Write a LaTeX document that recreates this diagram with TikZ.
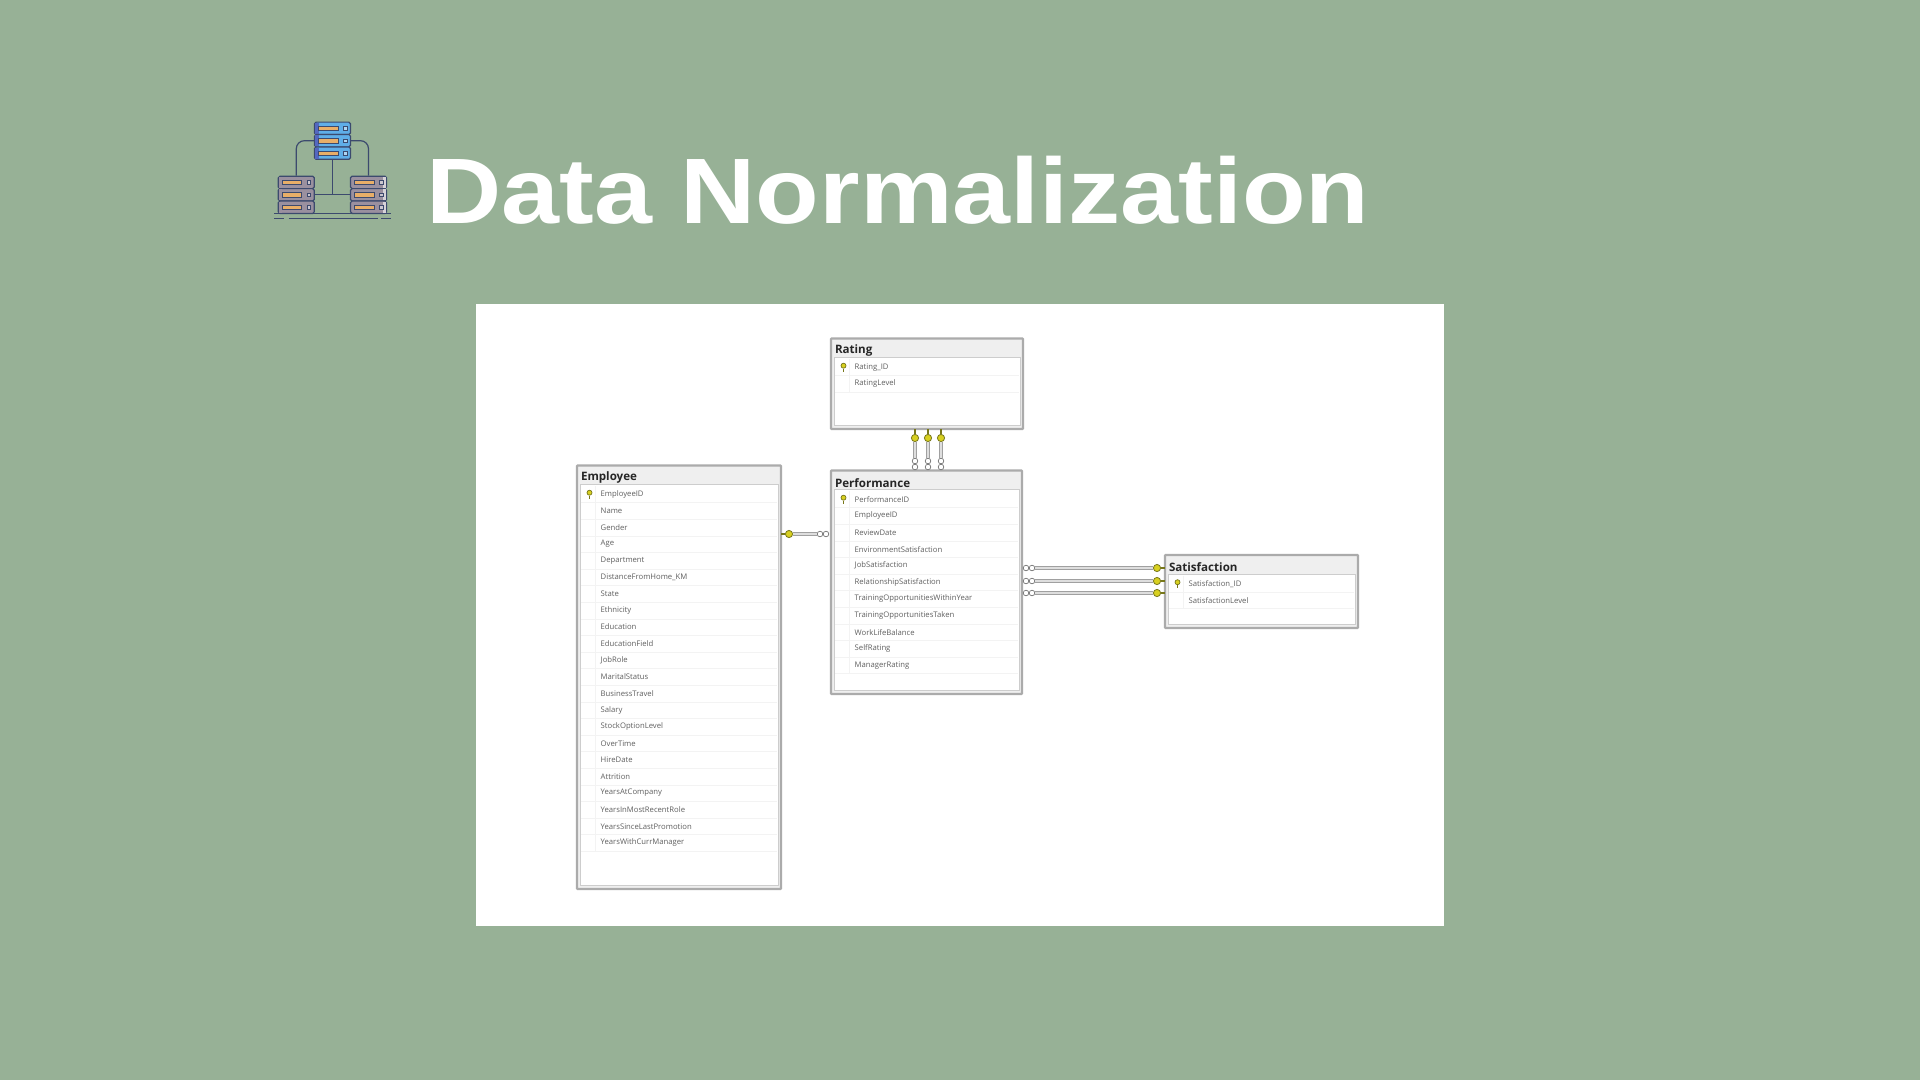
\documentclass[tikz,border=0pt]{standalone}
\usepackage{fontspec}
\setmainfont{Open Sans}
\newfontfamily\titlefont{Liberation Sans}[FakeStretch=1.12]
\definecolor{pagegreen}{HTML}{97B196}
\definecolor{tableline}{HTML}{ABABAB}
\definecolor{tablehead}{HTML}{EFEFEF}
\definecolor{rowline}{HTML}{F3F3F3}
\definecolor{fieldtext}{HTML}{606060}
\definecolor{keyyellow}{HTML}{D8D020}
\definecolor{keyedge}{HTML}{77771A}
\definecolor{relgray}{HTML}{A0A0A0}
\definecolor{rellight}{HTML}{DEDEDE}
\definecolor{iconline}{HTML}{3C4A6E}
\definecolor{rackblue}{HTML}{5FAEE8}
\definecolor{rackstrip}{HTML}{5468C0}
\definecolor{rackgray}{HTML}{9A909F}
\definecolor{rackbar}{HTML}{E8AE68}
\tikzset{
  tablebox/.style={draw=tableline,line width=2.2pt,fill=tablehead,anchor=north west,inner sep=0pt,outer sep=0pt,rounded corners=0.6pt},
  tablebody/.style={draw=tableline!60,line width=0.9pt,fill=white,anchor=north west,inner sep=0pt,outer sep=0pt},
  tabletitle/.style={anchor=west,inner sep=0pt,font=\bfseries\fontsize{11.6}{13}\selectfont,text=black!85},
  fieldname/.style={anchor=west,inner sep=0pt,font=\fontsize{7.7}{10}\selectfont,text=fieldtext},
  keybulb/.style={circle,draw=keyedge,fill=keyyellow,line width=0.7pt,minimum size=5pt,inner sep=0pt},
  relline/.style={draw=relgray,line width=1.1pt,double=rellight,double distance=1.2pt,line cap=butt},
  relstub/.style={draw=keyedge,line width=1.8pt},
  relkey/.style={circle,draw=keyedge,fill=keyyellow,line width=0.8pt,minimum size=7.2pt,inner sep=0pt},
  relring/.style={circle,draw=black!55,fill=white,line width=0.7pt,minimum size=5.6pt,inner sep=0pt},
  rackunit/.style={draw=iconline,line width=1.2pt,rounded corners=1.6pt,minimum width=36pt,minimum height=12.4pt,inner sep=0pt},
  rackpipe/.style={draw=iconline,line width=1.2pt},
}
% x, y of a rack unit: box, side strip, orange bar, small square
\newcommand{\rackitem}[6]{%
  \node[rackunit,fill=#4] (#1) at (#2,#3) {};
  \fill[#5] (#2+#6-1.6,#3-5.6) rectangle (#2+#6+1.6,#3+5.6);
  \draw[iconline,fill=rackbar,line width=0.8pt] (#2-14,#3-2.2) rectangle (#2+5.4,#3+2.2);
  \draw[iconline,fill=#4!50!white,line width=0.8pt] (#2+10.8,#3-1.8) rectangle (#2+14.4,#3+1.8);
}
% name, x, y, w, h, title, rows
\newcommand{\dbtable}[7]{%
  \node[tablebox,minimum width=#4pt,minimum height=#5pt] (#1) at (#2,#3) {};
  \node[tablebody,minimum width=#4pt-6pt,minimum height=#5pt-23pt] (#1Body) at (#2+3,#3+19) {};
  \node[tabletitle] (#1Title) at (#2+3.8,#3+12.3) {#6};
  \foreach \fieldName [count=\i from 0] in {#7} {
    \node[fieldname] (#1Row\i) at (#2+23.5,#3+28.8+16.6*\i) {\fieldName};
    \draw[rowline,line width=0.7pt] (#2+4,#3+37.2+16.6*\i) -- (#2+#4-4,#3+37.2+16.6*\i);
    \draw[rowline,line width=0.7pt] (#2+18,#3+20.6+16.6*\i) -- ++(0,16.6);
  }
  \node[keybulb] (#1Key) at (#2+12.5,#3+27.2) {};
  \draw[keyedge,line width=1.3pt] (#1Key.south) -- ++(0,3);
}

\begin{document}
\begin{tikzpicture}[x=1pt,y=-1pt]
  \fill[pagegreen] (0,0) rectangle (1920,1080);
  \useasboundingbox (0,0) rectangle (1920,1080);
  \fill[white] (476,303.5) rectangle (1444,926);

  % icon
  \rackitem{topA}{332.5}{128.3}{rackblue}{rackstrip}{-15.6}
  \rackitem{topB}{332.5}{140.7}{rackblue}{rackstrip}{-15.6}
  \rackitem{topC}{332.5}{153.1}{rackblue}{rackstrip}{-15.6}
  \rackitem{leftA}{296.3}{182.4}{rackgray}{rackgray}{-15.6}
  \rackitem{leftB}{296.3}{194.8}{rackgray}{rackgray}{-15.6}
  \rackitem{leftC}{296.3}{207.2}{rackgray}{rackgray}{-15.6}
  \rackitem{rightA}{368.5}{182.4}{rackgray}{rackgray!40!white}{15.6}
  \rackitem{rightB}{368.5}{194.8}{rackgray}{rackgray!40!white}{15.6}
  \rackitem{rightC}{368.5}{207.2}{rackgray}{rackgray!40!white}{15.6}
  \draw[rackpipe,rounded corners=8pt] (topB.west) -| (leftA.north);
  \draw[rackpipe,rounded corners=8pt] (topB.east) -| (rightA.north);
  \draw[rackpipe] (topC.south) -- (topC.south |- leftB.east);
  \draw[rackpipe] (leftB.east) -- (rightB.west);
  \draw[rackpipe] (274,213.4) -- (391,213.4);
  \draw[rackpipe] (274,218.7) -- (283.5,218.7);
  \draw[rackpipe] (288.5,218.7) -- (377.5,218.7);
  \draw[rackpipe] (381,218.7) -- (391,218.7);

  \node[anchor=base west,inner sep=0pt,text=white,font=\titlefont\bfseries\fontsize{93}{100}\selectfont] (pageTitle) at (426,223) {Data Normalization};

  % tables
  \dbtable{rating}{831}{338.5}{192}{90.5}{Rating}{Rating\_ID,RatingLevel}
  \dbtable{performance}{831}{470.5}{191}{223.5}{Performance}{PerformanceID,EmployeeID,ReviewDate,EnvironmentSatisfaction,JobSatisfaction,RelationshipSatisfaction,TrainingOpportunitiesWithinYear,TrainingOpportunitiesTaken,WorkLifeBalance,SelfRating,ManagerRating}
  \dbtable{employee}{577}{465.5}{204}{423.5}{Employee}{EmployeeID,Name,Gender,Age,Department,DistanceFromHome\_KM,State,Ethnicity,Education,EducationField,JobRole,MaritalStatus,BusinessTravel,Salary,StockOptionLevel,OverTime,HireDate,Attrition,YearsAtCompany,YearsInMostRecentRole,YearsSinceLastPromotion,YearsWithCurrManager}
  \dbtable{satisfaction}{1165}{555}{193}{73}{Satisfaction}{Satisfaction\_ID,SatisfactionLevel}

  % relations to Rating
  \foreach \relName/\relX in {A/915,B/928,C/941} {
    \node[relring] (ringIn\relName) at (\relX,461) {};
    \node[relring] (ringOut\relName) at (\relX,467) {};
    \node[relkey] (key\relName) at (\relX,438) {};
    \coordinate (stub\relName) at (rating.south -| key\relName);
    \draw[relline] (key\relName) -- (ringIn\relName);
    \draw[relstub] (key\relName) -- (stub\relName);
  }

  % relation to Employee
  \node[relring] (ringEmpIn) at (820,534) {};
  \node[relring] (ringEmpOut) at (826,534) {};
  \node[relkey] (keyEmp) at (789,534) {};
  \coordinate (stubEmp) at (employee.east |- keyEmp);
  \draw[relline] (keyEmp) -- (ringEmpIn);
  \draw[relstub] (keyEmp) -- (stubEmp);

  % relations to Satisfaction
  \foreach \relName/\relY in {D/568,E/581,F/593} {
    \node[relring] (ringIn\relName) at (1032,\relY) {};
    \node[relring] (ringOut\relName) at (1026,\relY) {};
    \node[relkey] (key\relName) at (1157,\relY) {};
    \coordinate (stub\relName) at (satisfaction.west |- key\relName);
    \draw[relline] (ringIn\relName) -- (key\relName);
    \draw[relstub] (key\relName) -- (stub\relName);
  }
\end{tikzpicture}
\end{document}
